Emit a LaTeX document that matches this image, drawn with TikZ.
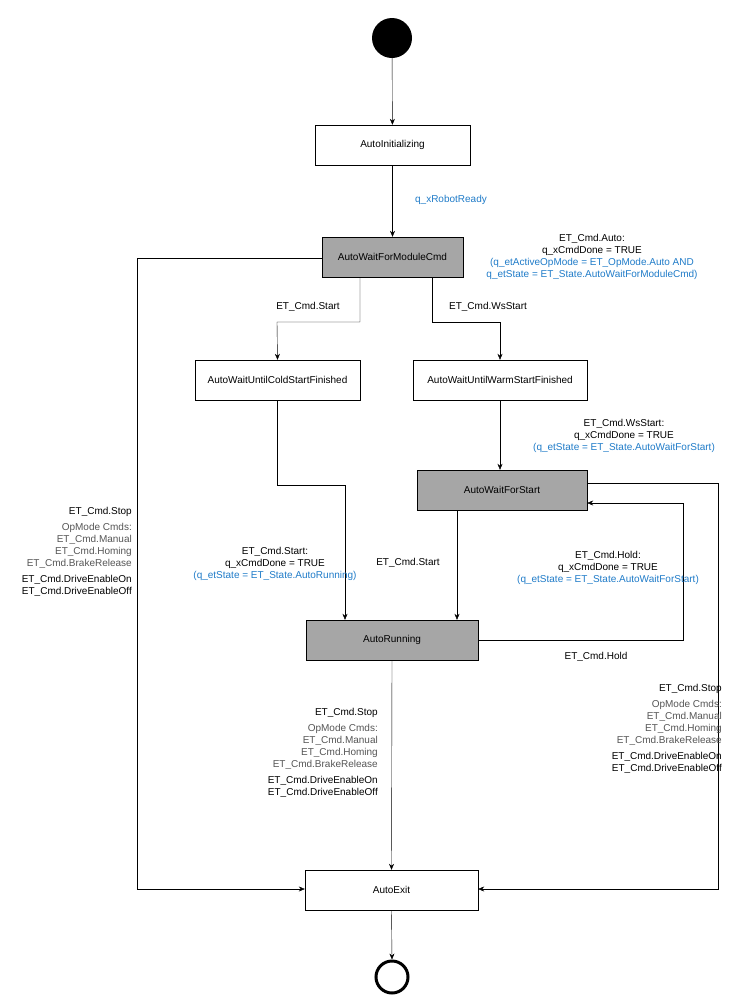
\documentclass[tikz,border=0pt]{standalone}
\usepackage{fontspec}
\setmainfont{Liberation Sans}
\usetikzlibrary{arrows.meta}
\definecolor{lblue}{HTML}{1F7BC8}
\definecolor{dgr}{HTML}{555555}
\definecolor{sfill}{HTML}{A6A6A6}
\begin{document}
\begin{tikzpicture}[x=1pt,y=-1pt,font=\fontsize{10}{12}\selectfont,
  st/.style={draw,thin,fill=white,minimum height=40pt,inner sep=0pt},
  gst/.style={st,fill=sfill},
  ar/.style={draw,-{Stealth[length=6pt,width=5pt]}},
  lb/.style={inner sep=0pt,align=center},
  rb/.style={inner sep=0pt,align=right,anchor=north east}]
\useasboundingbox (0,0) rectangle (745,1007);
\node[circle,fill=black,minimum size=40pt,inner sep=0pt] (s) at (392,38) {};
\node[st,minimum width=155pt] (ai) at (392.5,145) {AutoInitializing};
\node[gst,minimum width=141pt] (wm) at (392.5,257) {AutoWaitForModuleCmd};
\node[st,minimum width=165pt] (cs) at (277.5,380) {AutoWaitUntilColdStartFinished};
\node[st,minimum width=174pt] (ws) at (500,380) {AutoWaitUntilWarmStartFinished};
\node[gst,minimum width=170pt] (wf) at (502,490) {AutoWaitForStart};
\node[gst,minimum width=172pt] (ar) at (392,640) {AutoRunning};
\node[st,minimum width=173pt] (ex) at (391.5,890) {AutoExit};
\node[circle,draw,line width=3pt,minimum size=32pt,inner sep=0pt] (e) at (392,977) {};
\coordinate (c1) at (360,322); \coordinate (c2) at (277,322);
\coordinate (c3) at (432,322); \coordinate (c4) at (500,322);
\path[ar] (s) -- (ai);
\path[ar] (ai) -- (wm);
\path[ar] (wm.south -| c1) -- (c1) -- (c2) -- (cs.north);
\path[ar] (wm.south -| c3) -- (c3) -- (c4) -- (ws.north);
\path[ar] (ws.south) -- (wf.north -| ws.south);
\coordinate (c5) at (277,485); \coordinate (c6) at (345,485);
\path[ar] (cs.south -| c5) -- (c5) -- (c6) -- (ar.north -| c6);
\path[ar] (wf.south -| 457,0) -- (ar.north -| 457,0);
\coordinate (c7) at (683,640); \coordinate (c8) at (683,503);
\path[ar] (ar.east) -- (c7) -- (c8) -- (wf.east |- c8);
\coordinate (c9) at (718,483); \coordinate (c10) at (718,889);
\path[ar] (wf.east |- c9) -- (c9) -- (c10) -- (ex.east |- c10);
\coordinate (c11) at (137,258); \coordinate (c12) at (137,889);
\path[ar] (wm.west |- c11) -- (c11) -- (c12) -- (ex.west |- c12);
\path[ar] (ar.south) -- (ex.north);
\path[ar] (ex.south) -- (e.north);
\node[lb,text=lblue] (l1) at (451,200) {q\_xRobotReady};
\node[lb] (l2) at (592,257) {ET\_Cmd.Auto:\\q\_xCmdDone = TRUE\\\textcolor{lblue}{(q\_etActiveOpMode = ET\_OpMode.Auto AND}\\\textcolor{lblue}{q\_etState = ET\_State.AutoWaitForModuleCmd)}};
\node[lb] (l3) at (308,307) {ET\_Cmd.Start};
\node[lb] (l4) at (488,307) {ET\_Cmd.WsStart};
\node[lb] (l5) at (624,436) {ET\_Cmd.WsStart:\\q\_xCmdDone = TRUE\\\textcolor{lblue}{(q\_etState = ET\_State.AutoWaitForStart)}};
\node[lb] (l6) at (275,564) {ET\_Cmd.Start:\\q\_xCmdDone = TRUE\\\textcolor{lblue}{(q\_etState = ET\_State.AutoRunning)}};
\node[lb] (l7) at (408,563) {ET\_Cmd.Start};
\node[lb] (l8) at (608,568) {ET\_Cmd.Hold:\\q\_xCmdDone = TRUE\\\textcolor{lblue}{(q\_etState = ET\_State.AutoWaitForStart)}};
\node[lb] (l9) at (596,657) {ET\_Cmd.Hold};
\node[rb] (b1) at (132,507) {ET\_Cmd.Stop\\[4pt]\textcolor{dgr}{OpMode Cmds:}\\\textcolor{dgr}{ET\_Cmd.Manual}\\\textcolor{dgr}{ET\_Cmd.Homing}\\\textcolor{dgr}{ET\_Cmd.BrakeRelease}\\[4pt]ET\_Cmd.DriveEnableOn\\ET\_Cmd.DriveEnableOff};
\node[rb] (b2) at (378,708) {ET\_Cmd.Stop\\[4pt]\textcolor{dgr}{OpMode Cmds:}\\\textcolor{dgr}{ET\_Cmd.Manual}\\\textcolor{dgr}{ET\_Cmd.Homing}\\\textcolor{dgr}{ET\_Cmd.BrakeRelease}\\[4pt]ET\_Cmd.DriveEnableOn\\ET\_Cmd.DriveEnableOff};
\node[rb] (b3) at (722,684) {ET\_Cmd.Stop\\[4pt]\textcolor{dgr}{OpMode Cmds:}\\\textcolor{dgr}{ET\_Cmd.Manual}\\\textcolor{dgr}{ET\_Cmd.Homing}\\\textcolor{dgr}{ET\_Cmd.BrakeRelease}\\[4pt]ET\_Cmd.DriveEnableOn\\ET\_Cmd.DriveEnableOff};
\end{tikzpicture}
\end{document}
